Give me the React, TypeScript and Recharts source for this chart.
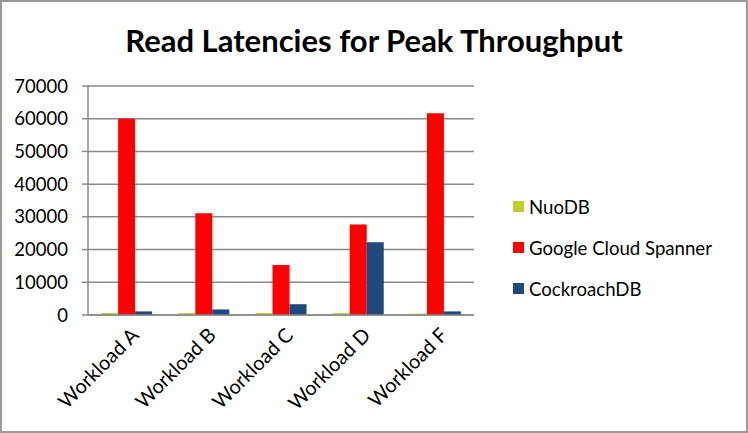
import React from 'react';
import { BarChart, Bar, XAxis, YAxis, CartesianGrid } from 'recharts';

// Categories and series values
const workloads = ['Workload A', 'Workload B', 'Workload C', 'Workload D', 'Workload F'];
const nuoDB = [600, 600, 600, 600, 400];
const spanner = [60000, 31100, 15300, 27700, 61700];
const cockroach = [1100, 1700, 3300, 22200, 1100];
const yTicks = [0, 10000, 20000, 30000, 40000, 50000, 60000, 70000];
const edgeTicks = [0, 1, 2, 3, 4, 5];

const SERIES = [
  { key: 'nuo', label: 'NuoDB', color: '#c0cf2e' },
  { key: 'spanner', label: 'Google Cloud Spanner', color: '#ff0000' },
  { key: 'cockroach', label: 'CockroachDB', color: '#1f497d' },
];

const data = workloads.map((name, i) => ({
  name,
  nuo: nuoDB[i],
  spanner: spanner[i],
  cockroach: cockroach[i],
}));

const FONT = 'Lato, "Open Sans", sans-serif';
const GRID = '#8a8a8a';

// Rotated category label, anchored at its end like the original
const SlantTick = ({ x, y, payload }: any) => (
  <g transform={`translate(${x},${y})`}>
    <text
      x={0}
      y={0}
      dy={19}
      textAnchor="end"
      transform="rotate(-45)"
      fill="#000"
      fontSize={20}
      fontFamily={FONT}
    >
      {payload.value}
    </text>
  </g>
);

export default function App() {
  return (
    <div
      style={{
        position: 'absolute',
        left: 0,
        top: 0,
        width: 748,
        height: 433,
        background: '#fff',
        fontFamily: FONT,
      }}
    >
      <BarChart
        width={748}
        height={433}
        data={data}
        margin={{ top: 86, right: 274, bottom: 0, left: 0 }}
        barCategoryGap="17%"
        barGap={0}
      >
        <CartesianGrid horizontal vertical={false} stroke={GRID} strokeWidth={1.5} />
        {/* boundary ticks between categories */}
        <XAxis
          xAxisId="edges"
          type="number"
          domain={[0, 5]}
          ticks={edgeTicks}
          tick={false}
          axisLine={false}
          tickLine={{ stroke: GRID, strokeWidth: 1.5 }}
          tickSize={6}
          height={1}
        />
        <XAxis
          dataKey="name"
          tick={<SlantTick />}
          tickLine={false}
          axisLine={{ stroke: GRID, strokeWidth: 1.5 }}
          interval={0}
          height={117}
        />
        <YAxis
          domain={[0, 70000]}
          ticks={yTicks}
          width={88}
          tick={{ fill: '#000', fontSize: 18.5, fontFamily: FONT }}
          tickLine={{ stroke: GRID, strokeWidth: 1.5 }}
          axisLine={{ stroke: GRID, strokeWidth: 1.5 }}
          tickSize={6}
          tickMargin={14}
        />
        {SERIES.map((s) => (
          <Bar key={s.key} dataKey={s.key} name={s.label} fill={s.color} isAnimationActive={false} />
        ))}
      </BarChart>

      <div
        style={{
          position: 'absolute',
          left: 0,
          top: 21,
          width: 748,
          textAlign: 'center',
          fontSize: 31,
          fontWeight: 700,
          color: '#000',
        }}
      >
        Read Latencies for Peak Throughput
      </div>

      <div style={{ position: 'absolute', left: 513, top: 186 }}>
        {SERIES.map((s) => (
          <div
            key={s.key}
            style={{ display: 'flex', alignItems: 'center', height: 41, fontSize: 18.6, color: '#000' }}
          >
            <span
              style={{ width: 11, height: 11, background: s.color, marginRight: 5, display: 'inline-block' }}
            />
            {s.label}
          </div>
        ))}
      </div>

      <div
        style={{
          position: 'absolute',
          left: 0,
          top: 0,
          width: 748,
          height: 433,
          boxSizing: 'border-box',
          border: '2px solid #9a9a9a',
          pointerEvents: 'none',
        }}
      />
    </div>
  );
}
